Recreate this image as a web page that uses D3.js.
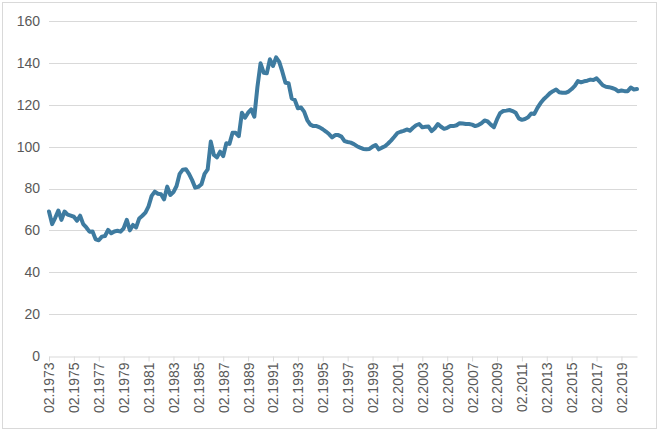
<!DOCTYPE html>
<html>
<head>
<meta charset="utf-8">
<script src="https://cdn.jsdelivr.net/npm/d3@7"></script>
<style>
  body { margin: 0; background: #fff; }
  svg { display: block; font-family: "Liberation Sans", Arial, sans-serif; }
</style>
</head>
<body>
<svg id="chart" width="659" height="431"></svg>
<script>
// quarterly index values, Q1 1973 .. Q2 2020
const values = [
  69, 63, 66, 69.5,        // 1973
  65, 69, 67.5, 67,        // 1974
  66.5, 64.6, 67, 63,      // 1975
  61.4, 59.4, 59.5, 55.7,  // 1976
  55.3, 57, 57.3, 60.2,    // 1977
  58.6, 59.5, 59.8, 59.4,  // 1978
  61, 65, 60, 62.6,        // 1979
  61.4, 65.7, 67, 68.5,    // 1980
  71.5, 76.5, 78.5, 77.5,  // 1981
  77.3, 74.8, 80.9, 76.9,  // 1982
  78.3, 81.2, 87, 89,      // 1983
  89.2, 87, 84, 80.4,      // 1984
  80.8, 82, 87, 89.1,      // 1985
  102.4, 96, 94.9, 97.6,   // 1986
  95.5, 101.6, 101.3, 106.6, // 1987
  106.6, 105, 116.2, 113.8,  // 1988
  116.2, 117.8, 114.3, 128.6, // 1989
  139.8, 135.3, 135, 141.7,   // 1990
  138.5, 142.6, 140.5, 135.8, // 1991
  130.5, 130.3, 123, 122.3,   // 1992
  118.3, 118.7, 116.7, 112.7, // 1993
  110.5, 109.8, 109.8, 109.2, // 1994
  108.3, 107.2, 106, 104.4,   // 1995
  105.5, 105.5, 104.8, 102.6, // 1996
  102.2, 101.9, 101.2, 100.2, // 1997
  99.5, 98.9, 98.8, 98.9,     // 1998
  100, 100.8, 98.7, 99.5,     // 1999
  100.2, 101.5, 103, 104.7,   // 2000
  106.5, 107.1, 107.5, 108.2, // 2001
  107.6, 109, 110.2, 110.8,   // 2002
  109.2, 109.5, 109.6, 107.4, // 2003
  108.8, 110.8, 109.5, 108.5, // 2004
  109, 109.8, 109.8, 110.2,   // 2005
  111.2, 111, 110.8, 110.8,   // 2006
  110.5, 109.8, 110.3, 111.2, // 2007
  112.5, 112, 110.5, 109.3,   // 2008
  113, 116, 117, 117.2,       // 2009
  117.5, 117, 116.2, 113.5,   // 2010
  112.8, 113.2, 114, 115.8,   // 2011
  115.6, 118.5, 120.8, 122.6, // 2012
  124, 125.5, 126.5, 127.3,   // 2013
  126, 125.7, 125.7, 126.3,   // 2014
  127.5, 129, 131.3, 130.7,   // 2015
  131.2, 131.5, 132, 131.8,   // 2016
  132.6, 131, 129.3, 128.6,   // 2017
  128.4, 128, 127.5, 126.4,   // 2018
  126.8, 126.5, 126.5, 128.2, // 2019
  127.3, 127.5                // 2020
];

const tickLabels = [
  "02.1973", "02.1975", "02.1977", "02.1979", "02.1981", "02.1983",
  "02.1985", "02.1987", "02.1989", "02.1991", "02.1993", "02.1995",
  "02.1997", "02.1999", "02.2001", "02.2003", "02.2005", "02.2007",
  "02.2009", "02.2011", "02.2013", "02.2015", "02.2017", "02.2019"
];

const yTicks = [0, 20, 40, 60, 80, 100, 120, 140, 160];

const margin = { top: 21, right: 22, bottom: 75, left: 49 };
const W = 659, H = 431;
const width = W - margin.left - margin.right;
const height = H - margin.top - margin.bottom;

const svg = d3.select("#chart");

/*outer frame of the chart*/
svg.append("rect")
  .attr("x", 2.5).attr("y", 2.5)
  .attr("width", W - 5).attr("height", H - 5)
  .attr("fill", "#fff")
  .attr("stroke", "#d9d9d9");

const g = svg.append("g")
  .attr("transform", "translate(" + margin.left + "," + margin.top + ")");

const x = d3.scaleLinear().domain([0, values.length - 1]).range([0, width]);
const y = d3.scaleLinear().domain([0, 160]).range([height, 0]);

/*horizontal grid lines*/
g.append("g")
  .selectAll("line")
  .data(yTicks.filter(d => d > 0))
  .join("line")
  .attr("x1", 0).attr("x2", width)
  .attr("y1", d => Math.round(y(d)) + 0.5)
  .attr("y2", d => Math.round(y(d)) + 0.5)
  .attr("stroke", "#d9d9d9");

/*y axis labels only*/
g.append("g")
  .selectAll("text")
  .data(yTicks)
  .join("text")
  .attr("x", -9)
  .attr("y", d => y(d))
  .attr("dy", "0.35em")
  .attr("text-anchor", "end")
  .attr("fill", "#595959")
  .style("font-size", "14px")
  .text(d => d);

/*x axis: a tick every 8 quarters*/
const xAxis = d3.axisBottom(x)
  .tickValues(tickLabels.map((d, i) => i * 8))
  .tickFormat((d, i) => tickLabels[i])
  .tickSize(5)
  .tickSizeOuter(0);

const xg = g.append("g")
  .attr("transform", "translate(0," + (Math.round(height) + 0.5) + ")")
  .call(xAxis);

xg.select(".domain").attr("stroke", "#d9d9d9");
xg.selectAll(".tick line").attr("stroke", "#d9d9d9");
xg.selectAll(".tick text")
  .attr("fill", "#595959")
  .style("font-size", "14px")
  .style("font-family", "'Liberation Sans', Arial, sans-serif")
  .attr("text-anchor", "end")
  .attr("transform", "rotate(-90)")
  .attr("x", -6)
  .attr("y", 0)
  .attr("dy", "0.35em");

/*the series line*/
const line = d3.line()
  .x((d, i) => x(i))
  .y(d => y(d));

g.append("path")
  .datum(values)
  .attr("fill", "none")
  .attr("stroke", "#3e7ba0")
  .attr("stroke-width", 4)
  .attr("stroke-linejoin", "round")
  .attr("stroke-linecap", "round")
  .attr("d", line);
</script>
</body>
</html>
